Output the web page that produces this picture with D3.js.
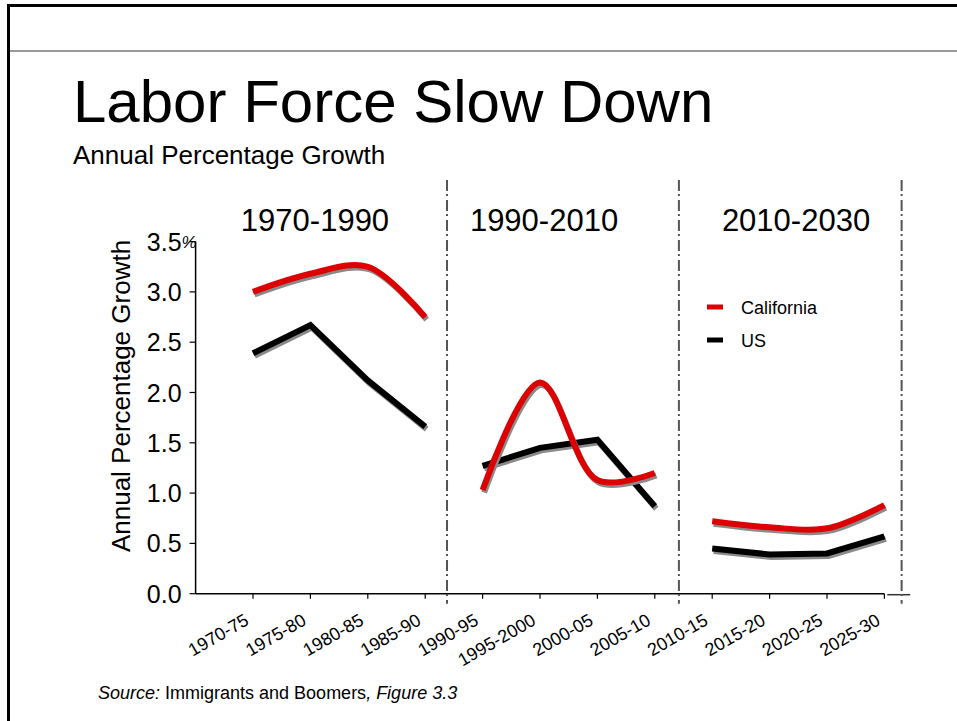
<!DOCTYPE html>
<html>
<head>
<meta charset="utf-8">
<script src="https://cdn.jsdelivr.net/npm/d3@7"></script>
<style>
  body { margin: 0; background: #fff; }
  svg { display: block; font-family: "Liberation Sans", Arial, sans-serif; }
</style>
</head>
<body>
<div id="chart"></div>
<script>
// data
const categories = ["1970-75", "1975-80", "1980-85", "1985-90", "1990-95", "1995-2000",
  "2000-05", "2005-10", "2010-15", "2015-20", "2020-25", "2025-30"];
const california = [3.00, 3.18, 3.25, 2.75, 1.03, 2.10, 1.13, 1.20, 0.72, 0.66, 0.65, 0.88];
const us = [2.39, 2.67, 2.12, 1.66, 1.27, 1.45, 1.53, 0.87, 0.45, 0.39, 0.40, 0.57];
const periods = ["1970-1990", "1990-2010", "2010-2030"];
const periodSize = 4;
const yTicks = [0, 0.5, 1.0, 1.5, 2.0, 2.5, 3.0, 3.5];

const W = 957, H = 721;
const svg = d3.select("#chart").append("svg")
  .attr("width", W)
  .attr("height", H);

// slide frame
svg.append("line").attr("x1", 8.5).attr("x2", 8.5).attr("y1", 4).attr("y2", H)
  .attr("stroke", "#000").attr("stroke-width", 3);
svg.append("line").attr("x1", 7).attr("x2", W).attr("y1", 5.5).attr("y2", 5.5)
  .attr("stroke", "#000").attr("stroke-width", 3);
svg.append("line").attr("x1", 10).attr("x2", W).attr("y1", 51).attr("y2", 51)
  .attr("stroke", "#999").attr("stroke-width", 2);

svg.append("text")
  .text("Labor Force Slow Down")
  .attr("x", 73)
  .attr("y", 122)
  .attr("font-size", 60);
svg.append("text")
  .text("Annual Percentage Growth")
  .attr("x", 73)
  .attr("y", 164)
  .attr("font-size", 26);

// scales
const x = d3.scaleLinear().domain([0, 1]).range([253, 310.4]);
const y = d3.scaleLinear().domain([0, 3.5]).range([593.7, 241.6]);

const g = svg.append("g");

// x axis line, from one step before first category to the last
g.append("line")
  .attr("x1", x(-1)).attr("x2", x(categories.length - 1))
  .attr("y1", y(0)).attr("y2", y(0))
  .attr("stroke", "#000").attr("stroke-width", 1.5);
g.append("line")
  .attr("x1", x(11.05)).attr("x2", x(11.45))
  .attr("y1", y(0) + 1).attr("y2", y(0) + 1)
  .attr("stroke", "#333").attr("stroke-width", 1.5);
g.selectAll(".xtick")
  .data(categories)
  .join("line")
  .attr("class", "xtick")
  .attr("x1", (d, i) => x(i)).attr("x2", (d, i) => x(i))
  .attr("y1", y(0)).attr("y2", y(0) + 5)
  .attr("stroke", "#000").attr("stroke-width", 1.2);
g.selectAll(".xlabel")
  .data(categories)
  .join("text")
  .attr("class", "xlabel")
  .attr("transform", (d, i) => "translate(" + (x(i) - 3) + "," + (y(0) + 30) + ") rotate(-30)")
  .attr("text-anchor", "end")
  .attr("font-size", 18)
  .text(d => d);

// y axis
g.append("line")
  .attr("x1", x(-1)).attr("x2", x(-1))
  .attr("y1", y(3.5)).attr("y2", y(0))
  .attr("stroke", "#000").attr("stroke-width", 1.5);
g.selectAll(".ytick")
  .data(yTicks)
  .join("line")
  .attr("class", "ytick")
  .attr("x1", x(-1) - 6).attr("x2", x(-1))
  .attr("y1", d => y(d)).attr("y2", d => y(d))
  .attr("stroke", "#000").attr("stroke-width", 1.2);
g.selectAll(".ylabel")
  .data(yTicks)
  .join("text")
  .attr("class", "ylabel")
  .attr("x", x(-1) - 14)
  .attr("y", d => y(d))
  .attr("dy", "0.36em")
  .attr("text-anchor", "end")
  .attr("font-size", 25)
  .text(d => d3.format(".1f")(d));
// the top label carries a small percent sign
g.append("text")
  .attr("x", x(-1) - 14)
  .attr("y", y(yTicks[yTicks.length - 1]))
  .attr("dy", "0.4em")
  .attr("font-size", 17)
  .attr("font-style", "italic")
  .text("%");

svg.append("text")
  .attr("transform", "translate(130,396) rotate(-90)")
  .attr("text-anchor", "middle")
  .attr("font-size", 26)
  .text("Annual Percentage Growth");

// period separators
const breaks = [3.38, 7.42, 11.3];
g.selectAll(".sep")
  .data(breaks)
  .join("line")
  .attr("class", "sep")
  .attr("x1", d => x(d)).attr("x2", d => x(d))
  .attr("y1", 180).attr("y2", y(0) + 10)
  .attr("stroke", "#555")
  .attr("stroke-width", 2)
  .attr("stroke-dasharray", "11,3,2,4");

// period headings, centred a little off each block's middle as in the slide
const headingOffset = [1.08, 1.07, 1.46];
g.selectAll(".period")
  .data(periods)
  .join("text")
  .attr("class", "period")
  .attr("x", (d, i) => x(i * periodSize + headingOffset[i]))
  .attr("y", 231)
  .attr("text-anchor", "middle")
  .attr("font-size", 31)
  .text(d => d);

// series lines, one piece per period
function drawSeries(values, color, curve) {
  const line = d3.line()
    .x(d => x(d.i))
    .y(d => y(d.v))
    .curve(curve);
  const pieces = periods.map((p, k) =>
    values.slice(k * periodSize, (k + 1) * periodSize)
      .map((v, j) => ({ i: k * periodSize + j, v: v })));
  g.selectAll(null)
    .data(pieces)
    .join("path")
    .attr("d", line)
    .attr("transform", "translate(1.5,2.5)")
    .attr("fill", "none")
    .attr("stroke", "#8a8a8a")
    .attr("stroke-width", 6);
  g.selectAll(null)
    .data(pieces)
    .join("path")
    .attr("d", line)
    .attr("fill", "none")
    .attr("stroke", color)
    .attr("stroke-width", 6);
}
drawSeries(us, "#000", d3.curveLinear);
drawSeries(california, "#dd0000", d3.curveCatmullRom);

// legend
const legend = [{ name: "California", color: "#dd0000" }, { name: "US", color: "#000" }];
const lg = svg.append("g").attr("transform", "translate(707,307)");
lg.selectAll("line")
  .data(legend)
  .join("line")
  .attr("x1", 0).attr("x2", 16)
  .attr("y1", (d, i) => i * 33).attr("y2", (d, i) => i * 33)
  .attr("stroke", d => d.color)
  .attr("stroke-width", 5);
lg.selectAll("text")
  .data(legend)
  .join("text")
  .attr("x", 34)
  .attr("y", (d, i) => i * 33 + 7)
  .attr("font-size", 18)
  .text(d => d.name);

// source note
const src = svg.append("text")
  .attr("x", 98)
  .attr("y", 699)
  .attr("font-size", 18);
src.append("tspan").attr("font-style", "italic").text("Source:");
src.append("tspan").text(" Immigrants and Boomers");
src.append("tspan").attr("font-style", "italic").text(", Figure 3.3");
</script>
</body>
</html>
